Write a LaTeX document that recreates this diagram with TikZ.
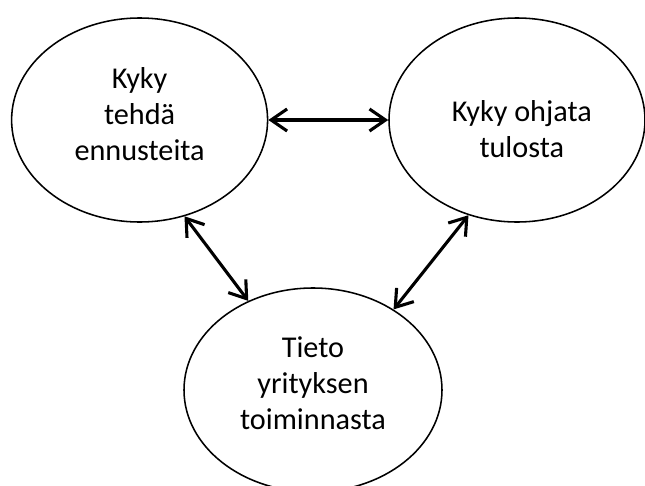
\documentclass[tikz,border=0pt]{standalone}
\usepackage{fontspec}
\setmainfont{Carlito}
\usetikzlibrary{arrows.meta,shapes.geometric}
\tikzset{
  kyky/.style={draw, shape=ellipse, line width=1.1pt, inner sep=0pt,
    minimum width=6.4cm, minimum height=5.1cm},
  teksti/.style={align=center, font=\fontsize{21.5}{25.6}\selectfont},
  nuoli/.style={{Straight Barb[length=4mm,width=5.5mm,line width=2.2pt]}-{Straight Barb[length=4mm,width=5.5mm,line width=2.2pt]}, line width=2.2pt}
}
\begin{document}
\begin{tikzpicture}
			\useasboundingbox (0,0) rectangle (16.125,-12.15);
			    \node[kyky, label={[teksti, yshift=0.14cm]center:Kyky\\tehdä\\ennusteita}] (EN) at (3.49,-3) {};
		    	\node[kyky, label={[teksti, xshift=0.12cm, yshift=-0.22cm]center:Kyky ohjata\\tulosta}] (OH) at (12.925,-3) {};
		    	\node[kyky, minimum width=6.45cm, label={[teksti, yshift=0.17cm]center:Tieto\\yrityksen\\toiminnasta}] (TI) at (7.825,-9.75) {};
		    	
		    	\draw[nuoli] (EN.east)--(OH.west);
		    	\draw[nuoli] (EN.-65)--(TI.126);
		    	\draw[nuoli] (OH.-117)--(TI.45);
		    \end{tikzpicture}
\end{document}
